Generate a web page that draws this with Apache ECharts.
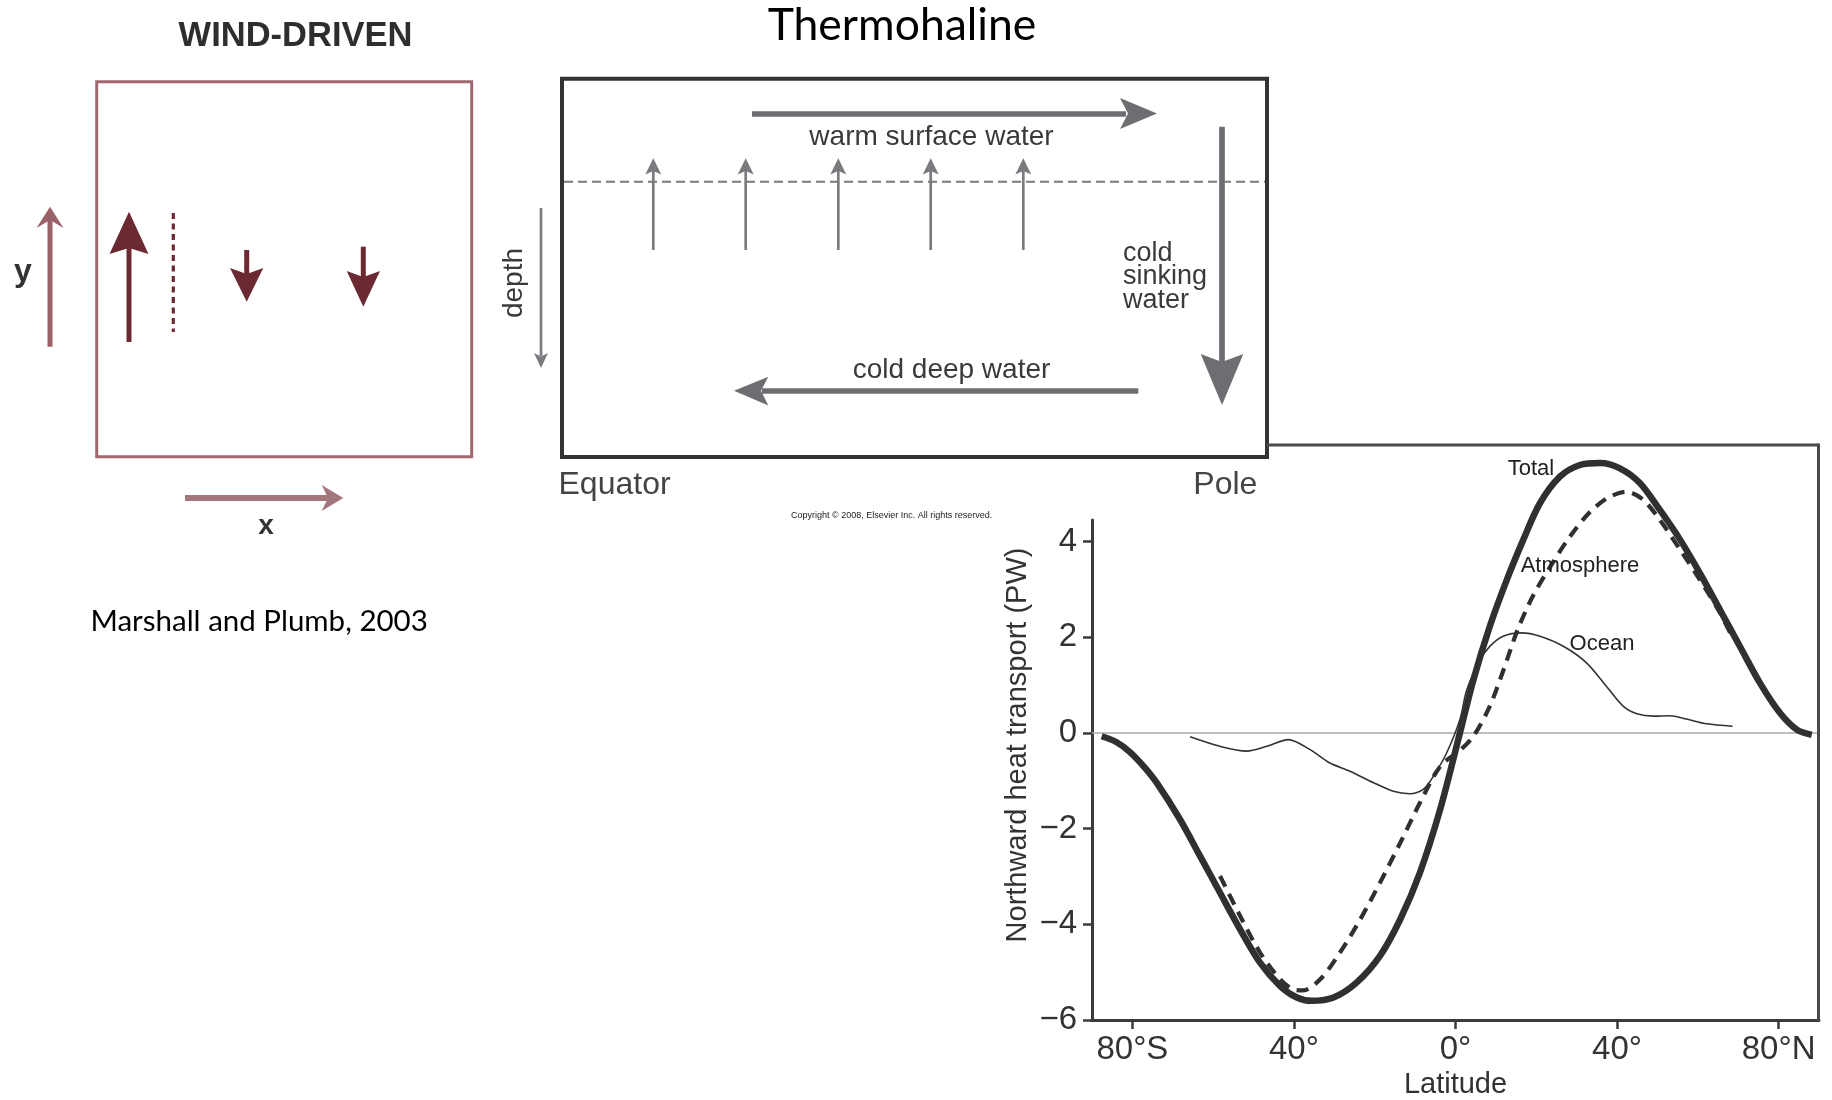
<!DOCTYPE html>
<html><head><meta charset="utf-8">
<script src="https://cdn.jsdelivr.net/npm/echarts@6/dist/echarts.min.js"></script>
<style>html,body{margin:0;padding:0;background:#fff}#c{width:1832px;height:1100px}</style>
</head><body><div id="c"></div>
<script>
// ---------- DATA ----------
const latTicks = [-80, -40, 0, 40, 80];
const latTickLabels = ['80°S', '40°', '0°', '40°', '80°N'];
const pwTicks = [-6, -4, -2, 0, 2, 4];

const totalLat = [-87.6,-84.0,-80.6,-77.2,-74.0,-68.2,-63.2,-58.3,-53.3,-48.4,-43.4,-39.3,-35.6,-30.2,-24.5,-18.7,-13.7,-8.8,-3.8,1.1,4.4,8.5,12.7,16.8,20.9,25.9,30.8,35.8,40.7,45.7,50.6,55.6,60.5,65.5,70.4,75.4,80.3,84.5,88.2];
const totalPW  = [-0.07,-0.19,-0.40,-0.70,-1.04,-1.81,-2.58,-3.34,-4.11,-4.80,-5.29,-5.53,-5.60,-5.53,-5.22,-4.66,-3.90,-2.92,-1.60,0.0,1.10,2.23,3.20,4.04,4.80,5.36,5.60,5.64,5.53,5.22,4.66,4.04,3.34,2.57,1.81,1.04,0.42,0.07,-0.04];

const atmosLat = [-58.3,-53.3,-48.4,-43.4,-40.1,-37.7,-33.5,-28.6,-23.6,-18.7,-13.7,-8.8,-3.8,1.3,4.6,8.5,11.9,15.4,19.1,23.5,28.3,33.0,37.6,42.4,46.5,50.6,55.6,60.5,65.5,68.0];
const atmosPW  = [-2.99,-3.83,-4.59,-5.15,-5.36,-5.38,-5.15,-4.59,-3.90,-3.13,-2.30,-1.46,-0.70,-0.35,-0.05,0.56,1.32,2.16,2.85,3.48,4.10,4.59,4.91,5.04,4.87,4.45,3.83,3.20,2.51,2.09];

const oceanLat = [-65.7,-58.3,-51.7,-46.7,-41.4,-36.0,-31.1,-26.1,-20.3,-15.4,-11.3,-8.0,-5.5,-2.2,1.1,2.8,6.1,8.5,11.8,16.4,20.9,26.7,32.5,37.4,41.5,44.9,49.0,53.1,57.2,62.2,68.6];
const oceanPW  = [-0.08,-0.28,-0.38,-0.28,-0.14,-0.35,-0.63,-0.80,-1.04,-1.22,-1.27,-1.18,-0.91,-0.42,0.28,0.90,1.53,1.81,2.02,2.09,2.02,1.81,1.46,0.97,0.56,0.40,0.35,0.36,0.29,0.19,0.14];

// ---------- DRAWING ----------
const F = '"Liberation Sans", Arial, Helvetica, sans-serif';
const FL = 'Lato, "Open Sans", sans-serif';
function T(text, x, base, size, o) {
  o = o || {};
  const k = o.k != null ? o.k : (o.ff === FL ? 0.387 : 0.3465);
  return { type: 'text', x: x, y: base - k * size, rotation: o.rot || 0, z: 20, silent: true,
    style: { text: text, fontSize: size, fontFamily: o.ff || F, fontWeight: o.fw || 'normal',
      fill: o.fill || '#333', align: o.align || 'left', verticalAlign: 'middle' } };
}
function L(x1, y1, x2, y2, stroke, w, dash) {
  return { type: 'line', z: 15, silent: true, shape: { x1: x1, y1: y1, x2: x2, y2: y2 },
    style: { stroke: stroke, lineWidth: w, lineDash: dash || null, lineCap: 'butt' } };
}
function P(pts, fill) {
  return { type: 'polygon', z: 16, silent: true, shape: { points: pts }, style: { fill: fill } };
}
function R(x, y, w, h, stroke, lw) {
  return { type: 'rect', z: 14, silent: true, shape: { x: x, y: y, width: w, height: h },
    style: { fill: 'none', stroke: stroke, lineWidth: lw } };
}

const maroon = '#6b2a31', rose = '#a0686e', roseL = '#a3767b';
const grey = '#6d6e71', greyL = '#7a7b7e';
const g = [];
// Wind-driven panel
g.push(T('WIND-DRIVEN', 295.5, 48.5, 34.5, { fw: 'bold', align: 'center', fill: '#2e2e2e' }));
g.push(R(96.7, 81.7, 375, 375, rose, 3));
g.push(L(129, 342, 129, 248, maroon, 5));
g.push(P([[129, 211.7], [148.5, 254], [129, 248], [109.5, 254]], maroon));
g.push(L(173.3, 213, 173.3, 332, maroon, 3.2, [6, 4.5]));
g.push(L(246.7, 250, 246.7, 276, maroon, 5));
g.push(P([[230, 268], [246.7, 274], [263.3, 268], [246.7, 301.7]], maroon));
g.push(L(363.3, 246.7, 363.3, 279, maroon, 5));
g.push(P([[346.7, 271], [363.3, 277], [380, 271], [363.3, 306.7]], maroon));
g.push(L(50, 346.7, 50, 216, '#9a6168', 5));
g.push(P([[50, 206.7], [63.5, 228], [50, 220], [36.5, 228]], '#9a6168'));
g.push(T('y', 23, 283, 32, { fw: 'bold', align: 'center', fill: '#333' }));
g.push(L(185, 498, 330, 498, roseL, 6));
g.push(P([[343.3, 498], [321.7, 485], [328, 498], [321.7, 511]], roseL));
g.push(T('x', 266, 536, 28, { fw: 'bold', align: 'center', fill: '#333' }));
g.push(T('Marshall and Plumb, 2003', 90.5, 632.5, 29.5, { ff: FL, fill: '#000' }));

// Thermohaline panel
g.push(T('Thermohaline', 902, 43, 44.5, { ff: FL, align: 'center', fill: '#000' }));
g.push(R(562, 78.7, 705, 378.3, '#333', 4));
g.push(L(752, 114, 1126, 114, grey, 5.5));
g.push(P([[1157, 113.5], [1120, 98], [1128, 113.5], [1120, 129]], grey));
g.push(T('warm surface water', 931.5, 146.7, 28, { align: 'center', fill: '#3a3a3a' }));
g.push(L(564, 181.7, 1265, 181.7, greyL, 2, [9, 5]));
[653.3, 745.7, 838.3, 930.7, 1023.3].forEach(function (x) {
  g.push(L(x, 250, x, 170, greyL, 2.7));
  g.push(P([[x, 158.3], [x + 8, 174.5], [x, 171], [x - 8, 174.5]], greyL));
});
g.push(L(1138.3, 391, 762, 391, grey, 5.7));
g.push(P([[734, 390.7], [768.3, 376.7], [761, 390.7], [768.3, 405.5]], grey));
g.push(T('cold deep water', 951.5, 380, 28, { align: 'center', fill: '#3a3a3a' }));
g.push(L(1222, 126.7, 1222, 364, grey, 5.7));
g.push(P([[1222, 405], [1243.3, 354], [1222, 362], [1200.7, 354]], grey));
g.push(T('cold', 1123, 262.5, 27, { fill: '#3a3a3a' }));
g.push(T('sinking', 1123, 286.3, 27, { fill: '#3a3a3a' }));
g.push(T('water', 1123, 309.8, 27, { fill: '#3a3a3a' }));
g.push(L(541, 208, 541, 356, greyL, 2.7));
g.push(P([[541, 368], [548, 353], [541, 356.5], [534, 353]], greyL));
g.push(T('depth', 514, 283, 28, { rot: Math.PI / 2, align: 'center', k: 0, fill: '#3a3a3a' }));
g.push(T('Equator', 558.5, 496, 32, { fill: '#444' }));
g.push(T('Pole', 1193.3, 496, 32, { fill: '#444' }));
g.push(T('Copyright \u00a9 2008, Elsevier Inc. All rights reserved.', 891.7, 519, 9, { align: 'center', fill: '#222' }));

// Heat transport chart frame and labels
g.push(L(1267, 445, 1818.5, 445, '#4a4a4a', 3));
g.push(L(1818.5, 443.5, 1818.5, 1021, '#4a4a4a', 3));
g.push(T('Total', 1531, 477, 22, { align: 'center', fill: '#222' }));
g.push(T('Atmosphere', 1580, 573.5, 22, { align: 'center', fill: '#222' }));
g.push(T('Ocean', 1602, 652, 22, { align: 'center', fill: '#222' }));
g.push(T('Northward heat transport (PW)', 1018, 745, 29, { rot: Math.PI / 2, align: 'center', k: 0, fill: '#333' }));

const pair = (xs, ys) => xs.map((x, i) => [x, ys[i]]);
const axisCol = '#3a3a3a';
const option = {
  animation: false,
  backgroundColor: '#fff',
  textStyle: { fontFamily: F },
  grid: { left: 1092, top: 520, width: 727, height: 501 },
  xAxis: {
    type: 'value', min: -90, max: 90,
    axisLine: { onZero: false, lineStyle: { color: axisCol, width: 3 } },
    axisTick: { customValues: latTicks, length: 9, lineStyle: { color: axisCol, width: 2.5 } },
    axisLabel: { customValues: latTicks, formatter: v => latTickLabels[latTicks.indexOf(v)], fontSize: 33, color: '#333', margin: 13, fontFamily: F },
    splitLine: { show: false },
    name: 'Latitude', nameLocation: 'middle', nameGap: 50,
    nameTextStyle: { fontSize: 29, color: '#333', fontFamily: F }
  },
  yAxis: {
    type: 'value', min: -6, max: 4.45,
    axisLine: { onZero: false, lineStyle: { color: axisCol, width: 3 } },
    axisTick: { customValues: pwTicks, length: 9, lineStyle: { color: axisCol, width: 2.5 } },
    axisLabel: { customValues: pwTicks, formatter: v => (v < 0 ? '\u2212' + (-v) : String(v)), fontSize: 33, color: '#333', margin: 15, fontFamily: F },
    splitLine: { show: false }
  },
  series: [
    { name: 'Ocean', type: 'line', z: 2, data: pair(oceanLat, oceanPW), smooth: 0.3, showSymbol: false, clip: false,
      lineStyle: { color: '#333', width: 1.6 },
      markLine: { silent: true, symbol: 'none', label: { show: false }, z: 1,
        lineStyle: { color: '#a8a8a8', width: 1.6, type: 'solid' }, data: [{ yAxis: 0 }] } },
    { name: 'Total', type: 'line', z: 3, data: pair(totalLat, totalPW), smooth: 0.3, showSymbol: false, clip: false,
      lineStyle: { color: '#303030', width: 6.5 } },
    { name: 'Atmosphere', type: 'line', z: 4, data: pair(atmosLat, atmosPW), smooth: 0.3, showSymbol: false, clip: false,
      lineStyle: { color: '#303030', width: 4.2, type: [12, 8] } }
  ],
  graphic: g
};
const chart = echarts.init(document.getElementById('c'), null, { renderer: 'canvas' });
chart.setOption(option);
</script></body></html>
